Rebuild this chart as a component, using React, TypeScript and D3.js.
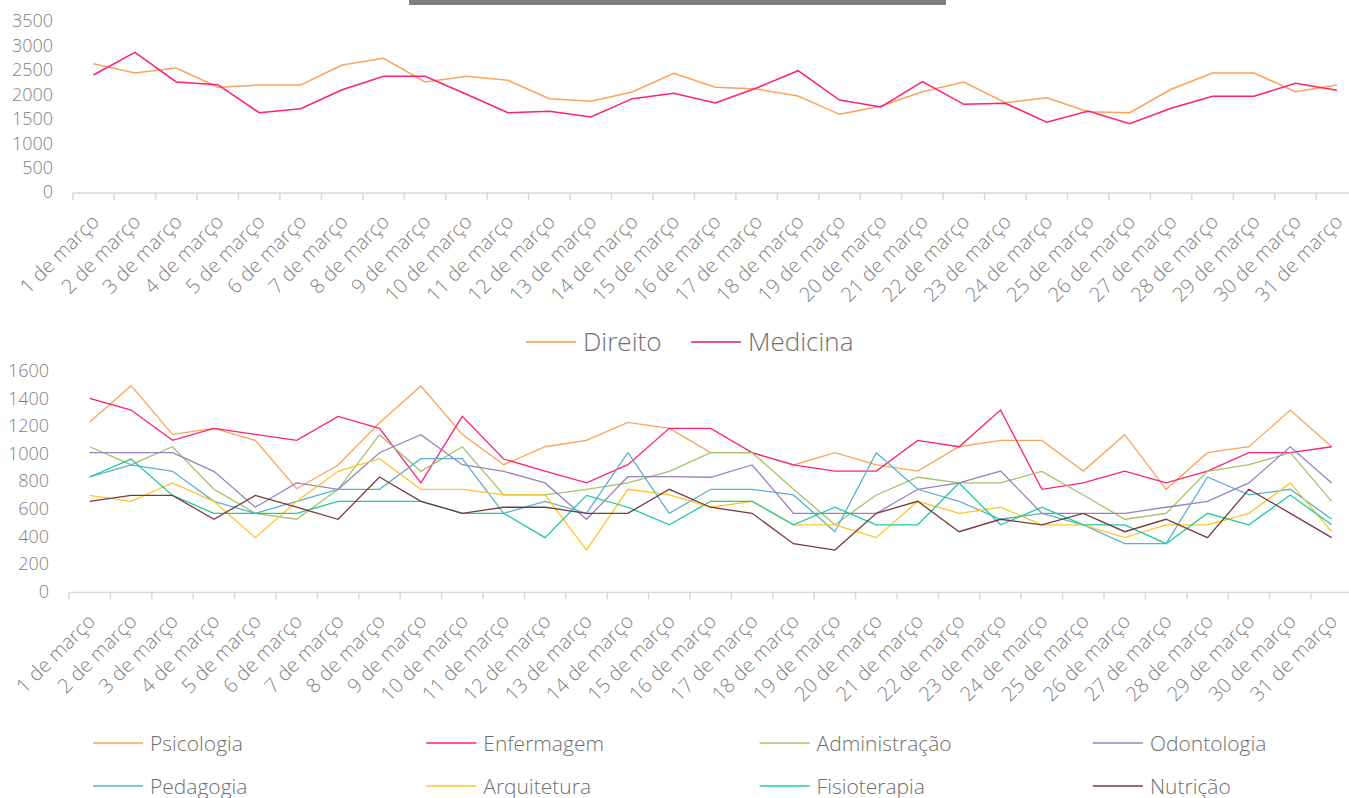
import React, { useEffect, useRef } from "react";
import * as d3 from "d3";

const days = d3.range(1, 32).map(d => `${d} de março`);

const topSeries = ["Direito", "Medicina"];
const direito = [2627, 2436, 2538, 2143, 2190, 2190, 2600, 2737, 2252, 2368, 2286, 1910, 1857, 2047, 2430, 2143, 2108, 1965, 1590, 1760, 2053, 2252, 1828, 1930, 1644, 1624, 2102, 2436, 2436, 2053, 2190];
const medicina = [2395, 2860, 2252, 2197, 1624, 1706, 2094, 2368, 2368, 2000, 1624, 1652, 1535, 1910, 2020, 1822, 2130, 2483, 1883, 1740, 2258, 1795, 1816, 1427, 1658, 1398, 1713, 1959, 1959, 2225, 2082];
const topTicks = [0, 500, 1000, 1500, 2000, 2500, 3000, 3500];

const courses = ["Psicologia", "Enfermagem", "Administração", "Odontologia", "Pedagogia", "Arquitetura", "Fisioterapia", "Nutrição"];
const psicologia = [1227, 1490, 1138, 1181, 1094, 744, 916, 1222, 1488, 1138, 918, 1048, 1094, 1225, 1181, 1005, 1005, 916, 1005, 916, 872, 1048, 1094, 1094, 872, 1135, 740, 1005, 1048, 1314, 1048];
const enfermagem = [1399, 1314, 1094, 1181, 1138, 1094, 1268, 1181, 786, 1268, 959, 872, 786, 918, 1181, 1181, 1005, 916, 872, 872, 1094, 1048, 1314, 740, 786, 872, 786, 872, 1005, 1005, 1048];
const administracao = [1048, 918, 1048, 740, 566, 523, 740, 1135, 870, 1048, 699, 699, 740, 786, 870, 1005, 1005, 740, 483, 699, 827, 786, 786, 870, 699, 523, 566, 870, 918, 1005, 653];
const odontologia = [1005, 1005, 1005, 870, 610, 786, 740, 1005, 1135, 918, 870, 786, 523, 831, 831, 827, 916, 566, 566, 566, 740, 786, 872, 566, 566, 566, 610, 653, 786, 1048, 786];
const pedagogia = [829, 916, 870, 653, 566, 653, 740, 740, 962, 962, 566, 653, 566, 1005, 566, 740, 740, 699, 433, 1005, 740, 653, 523, 566, 483, 346, 346, 829, 699, 740, 523];
const arquitetura = [696, 653, 786, 653, 390, 653, 870, 962, 740, 740, 699, 699, 300, 740, 699, 610, 653, 483, 483, 390, 653, 566, 610, 483, 483, 390, 483, 483, 566, 786, 433];
const fisioterapia = [829, 959, 696, 566, 566, 566, 653, 653, 653, 566, 566, 390, 696, 610, 483, 653, 653, 483, 610, 483, 483, 786, 483, 610, 483, 483, 346, 566, 483, 699, 483];
const nutricao = [653, 696, 696, 523, 696, 610, 523, 829, 653, 566, 610, 610, 566, 566, 740, 610, 566, 346, 300, 566, 653, 433, 523, 483, 566, 433, 523, 390, 740, 566, 390];
const bottomTicks = [0, 200, 400, 600, 800, 1000, 1200, 1400, 1600];

const topColors = ["#F9A45A", "#FF1F74"];
const topLegendColors = ["#F29A48", "#E5175E"];
const courseColors = ["#F9A45A", "#FF1F74", "#A3C26A", "#9B80BF", "#5AAFD2", "#FFC42A", "#1FCB9B", "#7A3A3A"];

const FONT = "'Open Sans', sans-serif";
const TEXT_GRAY = "#7F7F7F";

function drawPanel(svg, opts) {
  const { series, colors, x0, step, yDomain, yRange, ticks, labelX, lineWidth } = opts;
  const x = d3.scaleBand().domain(days).range([x0, x0 + step * days.length]).padding(0);
  const y = d3.scaleLinear().domain(yDomain).range(yRange);
  const g = svg.append("g");
  const axisY = yRange[0] + 1;

  g.append("g")
    .selectAll("text")
    .data(ticks)
    .join("text")
    .attr("x", labelX)
    .attr("y", d => y(d))
    .attr("dy", "0.36em")
    .attr("text-anchor", "end")
    .attr("font-family", FONT)
    .attr("font-weight", 300)
    .attr("font-size", 18)
    .attr("fill", TEXT_GRAY)
    .text(d => d);

  g.append("line")
    .attr("x1", x0).attr("x2", x0 + step * days.length)
    .attr("y1", axisY).attr("y2", axisY)
    .attr("stroke", "#D9D9D9").attr("stroke-width", 1.5);

  g.append("g")
    .selectAll("line")
    .data(d3.range(days.length + 1))
    .join("line")
    .attr("x1", i => x0 + i * step).attr("x2", i => x0 + i * step)
    .attr("y1", axisY).attr("y2", axisY + 7)
    .attr("stroke", "#D9D9D9").attr("stroke-width", 1.5);

  g.append("g")
    .selectAll("text")
    .data(days)
    .join("text")
    .attr("transform", d => `translate(${x(d) + step / 2 - 3},${axisY + 20}) rotate(-45)`)
    .attr("text-anchor", "end")
    .attr("dy", "0.7em")
    .attr("font-family", FONT)
    .attr("font-weight", 300)
    .attr("font-size", 20)
    .attr("fill", TEXT_GRAY)
    .text(d => d);

  const line = d3.line()
    .x((d, i) => x(days[i]) + step / 2)
    .y(d => y(d));

  g.append("g")
    .selectAll("path")
    .data(series)
    .join("path")
    .attr("d", d => line(d))
    .attr("fill", "none")
    .attr("stroke", (d, i) => colors[i])
    .attr("stroke-width", lineWidth)
    .attr("stroke-linejoin", "miter");
}

export default function App() {
  const ref = useRef(null);

  useEffect(() => {
    document.body.style.margin = "0";
    const svg = d3.select(ref.current);
    svg.selectAll("*").remove();

    svg.append("rect")
      .attr("x", 409).attr("y", 0).attr("width", 537).attr("height", 5)
      .attr("fill", "#7F7F7F");

    drawPanel(svg, {
      series: [direito, medicina],
      colors: topColors,
      x0: 72.7,
      step: 41.45,
      yDomain: [0, 3500],
      yRange: [192, 21],
      ticks: topTicks,
      labelX: 53,
      lineWidth: 1.5
    });

    // middle legend
    const midLegend = svg.append("g");
    const midX = [526, 691];
    topSeries.forEach((name, i) => {
      midLegend.append("line")
        .attr("x1", midX[i]).attr("x2", midX[i] + 50)
        .attr("y1", 342).attr("y2", 342)
        .attr("stroke", topLegendColors[i]).attr("stroke-width", 1.5);
      midLegend.append("text")
        .attr("x", midX[i] + 57).attr("y", 342).attr("dy", "0.36em")
        .attr("font-family", FONT).attr("font-weight", 300).attr("font-size", 26)
        .attr("fill", "#6F6F6F")
        .text(name);
    });

    drawPanel(svg, {
      series: [psicologia, enfermagem, administracao, odontologia, pedagogia, arquitetura, fisioterapia, nutricao],
      colors: courseColors,
      x0: 69,
      step: 41.4,
      yDomain: [0, 1600],
      yRange: [591.5, 370.5],
      ticks: bottomTicks,
      labelX: 49,
      lineWidth: 1.3
    });

    // bottom legend
    const legend = svg.append("g");
    courses.forEach((name, i) => {
      const col = i % 4;
      const row = Math.floor(i / 4);
      const lx = 93 + col * 333.3;
      const ly = 743 + row * 43;
      legend.append("line")
        .attr("x1", lx).attr("x2", lx + 50)
        .attr("y1", ly).attr("y2", ly)
        .attr("stroke", courseColors[i]).attr("stroke-width", 1.5);
      legend.append("text")
        .attr("x", lx + 57).attr("y", ly).attr("dy", "0.36em")
        .attr("font-family", FONT).attr("font-weight", 300).attr("font-size", 21)
        .attr("fill", "#6F6F6F")
        .text(name);
    });
  }, []);

  return <svg ref={ref} width={1349} height={798} style={{ display: "block" }}></svg>;
}
